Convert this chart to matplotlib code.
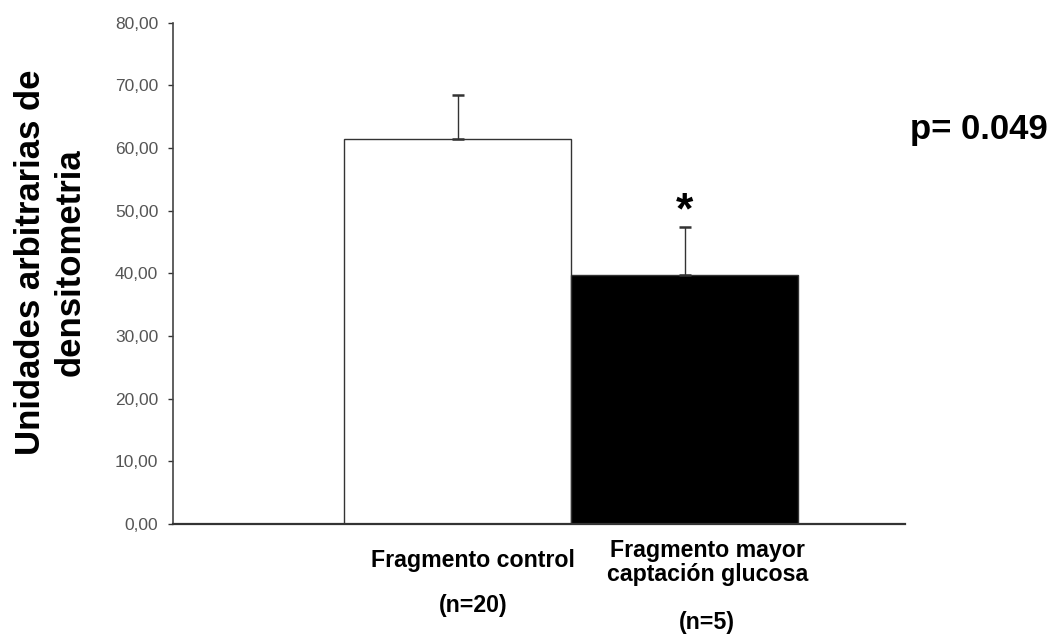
import matplotlib
matplotlib.use("Agg")
import matplotlib.pyplot as plt

# Datos del gráfico
grupos = ["Fragmento control", "Fragmento mayor\ncaptación glucosa"]
n_grupos = ["(n=20)", "(n=5)"]
medias = [61.5, 39.7]
errores = [7.0, 7.7]
colores = ["white", "black"]
yticks = [0, 10, 20, 30, 40, 50, 60, 70, 80]

plt.rcParams["font.family"] = ["Liberation Sans", "DejaVu Sans"]


def main():
    fig = plt.figure(figsize=(10.53, 6.37), dpi=100)
    ax = fig.add_axes([0.1643, 0.1774, 0.695, 0.787])

    x = [0, 1]
    ax.bar(x, medias, width=1.0, color=colores, edgecolor="#333333", linewidth=1.0)
    ax.errorbar(x, medias, yerr=[[0, 0], errores], fmt="none", ecolor="#333333",
                elinewidth=1.0, capsize=4, capthick=1.8)

    ax.set_xlim(-1.253, 1.97)
    ax.set_ylim(0, 80)
    ax.set_yticks(yticks)
    ax.set_yticklabels([f"{v:.2f}".replace(".", ",") for v in yticks],
                       fontsize=12.5, color="#555555")
    ax.set_xticks([])
    ax.tick_params(axis="y", direction="out", length=3.6, width=1, color="#333333", pad=7)
    for s in ["top", "right"]:
        ax.spines[s].set_visible(False)
    ax.spines["left"].set_color("#444444")
    ax.spines["left"].set_linewidth(1.2)
    ax.spines["bottom"].set_color("#333333")
    ax.spines["bottom"].set_linewidth(1.6)

    # titulo del eje y (dos lineas)
    fig.text(31 / 1053, 0.589, "Unidades arbitrarias de", rotation=90,
             ha="center", va="center", fontsize=25, fontweight="bold")
    fig.text(70 / 1053, 0.589, "densitometria", rotation=90,
             ha="center", va="center", fontsize=25, fontweight="bold")

    # etiquetas de grupo (algo desplazadas a la derecha, como en el original)
    tr = ax.get_xaxis_transform()
    kw = dict(transform=tr, ha="center", va="center", fontweight="bold", fontsize=16.7)
    ax.text(x[0] + 0.07, -0.072, grupos[0], **kw)
    ax.text(x[0] + 0.07, -0.162, n_grupos[0], **kw)
    ax.text(x[1] + 0.1, -0.077, grupos[1], linespacing=1.1, **kw)
    ax.text(x[1] + 0.1, -0.196, n_grupos[1], **kw)

    # asterisco y p
    ax.text(x[1], medias[1] + errores[1] - 0.8, "*", ha="center", va="bottom",
            fontsize=32, fontweight="bold")
    fig.text(910 / 1053, 0.796, "p= 0.049", ha="left", va="center",
             fontsize=25, fontweight="bold")

    fig.savefig("out.png", dpi=100, facecolor="white")


if __name__ == "__main__":
    main()
